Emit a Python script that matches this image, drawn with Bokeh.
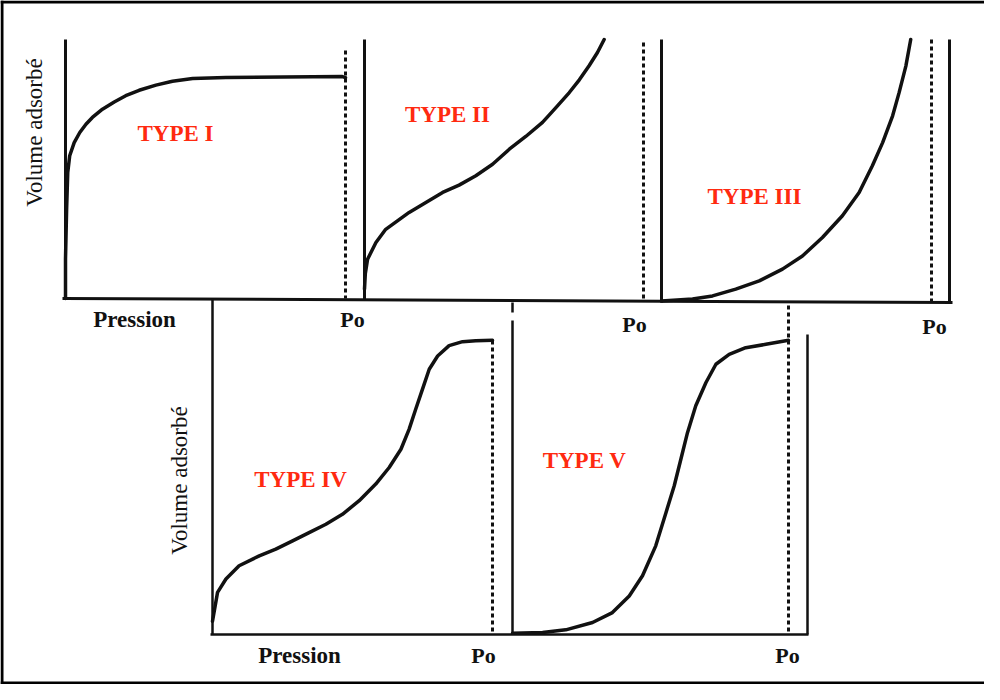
from bokeh.plotting import figure
from bokeh.models import Range1d
from bokeh.embed import file_html
from bokeh.resources import INLINE
from bokeh.core.properties import value

# ---------------- data (P/P0 , volume in % of panel height) ----------------
type1_p = [0.0, 0.0, 0.004, 0.008, 0.015, 0.031, 0.051, 0.073, 0.096, 0.132, 0.174, 0.215,
           0.263, 0.323, 0.382, 0.454, 0.573, 0.989, 1.0]
type1_v = [0.0, 15.2, 34.5, 48.6, 55.1, 60.2, 64.1, 67.3, 69.9, 73.1, 75.9, 78.3,
           80.4, 82.4, 83.9, 84.9, 85.3, 85.7, 85.3]

type2_p = [0.0, 0.003, 0.011, 0.041, 0.076, 0.160, 0.220, 0.280, 0.339, 0.399, 0.459, 0.519,
           0.578, 0.638, 0.686, 0.734, 0.770, 0.805, 0.835, 0.859]
type2_v = [4.0, 10.0, 15.5, 21.9, 27.0, 33.5, 37.3, 41.2, 44.0, 47.6, 52.0, 57.8,
           62.7, 68.1, 73.8, 79.6, 84.5, 89.9, 95.0, 100.0]

type3_p = [0.0, 0.115, 0.189, 0.275, 0.362, 0.448, 0.522, 0.596, 0.670, 0.732, 0.781,
           0.819, 0.856, 0.880, 0.905, 0.923]
type3_v = [0.6, 1.3, 2.5, 5.1, 8.2, 12.7, 17.7, 24.7, 33.0, 41.8, 52.0,
           60.8, 71.0, 79.8, 89.9, 100.0]

type4_p = [0.0, 0.018, 0.048, 0.095, 0.167, 0.226, 0.286, 0.345, 0.405, 0.464, 0.524, 0.583,
           0.631, 0.673, 0.702, 0.726, 0.750, 0.774, 0.804, 0.845, 0.893, 0.940, 1.0]
type4_v = [4.0, 12.7, 16.7, 20.7, 23.7, 25.7, 28.2, 30.7, 33.2, 36.2, 40.3, 45.3,
           50.3, 55.8, 61.8, 67.9, 73.9, 79.9, 83.9, 87.0, 88.2, 88.5, 88.6]

type5_p = [0.0, 0.109, 0.193, 0.290, 0.362, 0.423, 0.471, 0.519, 0.556, 0.586, 0.610, 0.634,
           0.664, 0.701, 0.737, 0.785, 0.845, 0.918, 0.990, 1.0]
type5_v = [0.4, 0.6, 1.4, 3.6, 6.6, 11.6, 17.7, 26.7, 36.7, 44.8, 52.8, 60.8,
           68.9, 75.9, 81.4, 84.4, 86.4, 87.4, 88.5, 88.6]

type_labels = ["TYPE I", "TYPE II", "TYPE III", "TYPE IV", "TYPE V"]
x_label = "Pression"
y_label = "Volume adsorbé"
p0_label = "Po"

# ---------------- layout (image pixel coordinates) ----------------
W, H = 984, 684
X0, X1 = 8, 8 + W
Y0, Y1 = 8, 8 + H

# panel boxes: (x of y-axis, x of Po line, y of baseline, y of top)
panels = [
    (73, 353, 306, 47),
    (372, 651, 307, 47),
    (669, 939, 310, 47),
    (220, 500, 642, 310),
    (520, 796, 642, 310),
]
curves = [(type1_p, type1_v), (type2_p, type2_v), (type3_p, type3_v),
          (type4_p, type4_v), (type5_p, type5_v)]
label_pos = [(183, 141), (455, 122), (762, 204), (308, 487), (592, 468)]

p = figure(width=W, height=H, output_backend="svg", toolbar_location=None,
           x_range=Range1d(X0, X1), y_range=Range1d(Y1, Y0),
           min_border=0, outline_line_color=None, background_fill_color="white",
           border_fill_color="white")
p.axis.visible = False
p.grid.visible = False

# panel scales: each panel gets its own x (P/P0) and y (volume) range
for i, (px0, px1, yb, yt) in enumerate(panels):
    kx = px1 - px0
    p.extra_x_ranges[f"p{i}"] = Range1d((X0 - px0) / kx, (X1 - px0) / kx)
    ky = (yb - yt) / 100.0
    s = -(Y1 - yb) / ky
    p.extra_y_ranges[f"v{i}"] = Range1d(s, s + H / ky)

INK = "#111111"

# outer frame (cropped on the right as in the reference)
p.segment(x0=[X0 + 1.5, X0, X0], y0=[Y0, Y0 + 1.5, Y1 - 1.5],
          x1=[X0 + 1.5, X1, X1], y1=[Y1, Y0 + 1.5, Y1 - 1.5],
          line_color="black", line_width=3)

# solid axis lines (top row)
p.segment(x0=[70, 73, 372, 669, 957], y0=[306, 47, 47, 47, 47],
          x1=[960, 73, 372, 669, 957], y1=[310, 306, 307, 310, 310],
          line_color=INK, line_width=3)
# solid axis lines (bottom row)
p.segment(x0=[218, 220, 520, 520, 815], y0=[642, 306, 328, 310, 342],
          x1=[816, 220, 520, 520, 815], y1=[642, 642, 642, 320, 642],
          line_color=INK, line_width=2.5)
# Po dashed lines
p.segment(x0=[353, 651, 939, 500, 796], y0=[58, 50, 47, 348, 313],
          x1=[353, 651, 939, 500, 796], y1=[306, 307, 310, 642, 642],
          line_color=INK, line_width=3, line_dash="4 3")

# isotherm curves through each panel's own scales
for i, (cx, cy) in enumerate(curves):
    p.line(cx, cy, x_range_name=f"p{i}", y_range_name=f"v{i}",
           line_color=INK, line_width=3.5, line_join="round", line_cap="round")

serif = value("Liberation Serif")

# TYPE labels
p.text(x=[lp[0] for lp in label_pos], y=[lp[1] for lp in label_pos], text=type_labels,
       text_font=serif, text_font_style="bold", text_font_size="23px",
       text_color="#ff2a10", text_align="center", text_baseline="middle")

# Pression labels
p.text(x=[142, 307], y=[327, 663], text=[x_label, x_label],
       text_font=serif, text_font_style="bold", text_font_size="23px",
       text_color=INK, text_align="center", text_baseline="middle")

# Po labels
p.text(x=[360, 642, 942, 491, 795], y=[327, 332, 334, 663, 663], text=[p0_label] * 5,
       text_font=serif, text_font_style="bold", text_font_size="22px",
       text_color=INK, text_align="center", text_baseline="middle")

# Volume adsorbé labels
p.text(x=[42, 187], y=[140, 488], text=[y_label, y_label], angle=1.5708,
       text_font=serif, text_font_size="23px",
       text_color=INK, text_align="center", text_baseline="middle")

open("out.html", "w").write(file_html(p, INLINE))
